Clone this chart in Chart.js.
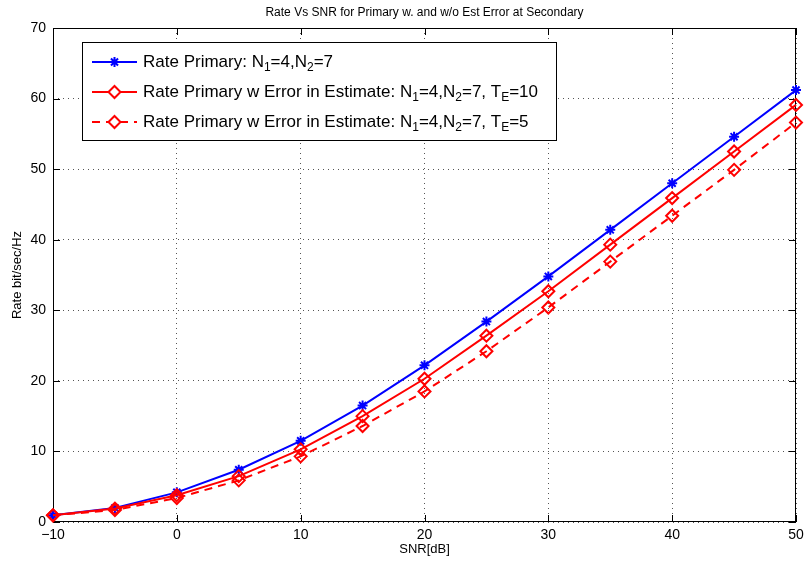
<!DOCTYPE html>
<html lang="en">
<head>
    <meta charset="UTF-8">
    <title>Rate Vs SNR</title>
    <script src="https://cdn.jsdelivr.net/npm/chart.js"></script>
    <style>
        body {
            margin: 0;
            padding: 0;
            background: #fff;
        }
        canvas {
            display: block;
        }
    </style>
</head>
<body>
    <canvas id="rateChart" width="804" height="565"></canvas>

    <script>
        // SNR values (dB)
        const snr = [-10, -5, 0, 5, 10, 15, 20, 25, 30, 35, 40, 45, 50];

        // Rate (bit/sec/Hz)
        const ratePrimary = [0.95, 2.0, 4.2, 7.4, 11.5, 16.5, 22.2, 28.4, 34.8, 41.4, 48.0, 54.6, 61.2];
        const rateErrTE10 = [0.95, 1.9, 3.8, 6.5, 10.3, 15.0, 20.3, 26.4, 32.7, 39.3, 45.9, 52.5, 59.1];
        const rateErrTE5 = [0.95, 1.7, 3.4, 5.9, 9.3, 13.6, 18.5, 24.2, 30.4, 36.9, 43.4, 49.9, 56.6];

        const xTicks = [-10, 0, 10, 20, 30, 40, 50];
        const yTicks = [0, 10, 20, 30, 40, 50, 60, 70];

        const chartTitle = 'Rate Vs SNR for Primary w. and w/o Est Error at Secondary';
        const xTitle = 'SNR[dB]';
        const yTitle = 'Rate bit/sec/Hz';

        // legend text pieces: [text, isSubscript]
        const legendLabels = [
            [['Rate Primary: N', 0], ['1', 1], ['=4,N', 0], ['2', 1], ['=7', 0]],
            [['Rate Primary w Error in Estimate: N', 0], ['1', 1], ['=4,N', 0], ['2', 1], ['=7, T', 0], ['E', 1], ['=10', 0]],
            [['Rate Primary w Error in Estimate: N', 0], ['1', 1], ['=4,N', 0], ['2', 1], ['=7, T', 0], ['E', 1], ['=5', 0]]
        ];

        const FONT = '"Liberation Sans", Arial, Helvetica, sans-serif';

        function toPoints(vals) {
            return snr.map((x, i) => ({ x: x, y: vals[i] }));
        }

        // frame, inward ticks, titles and legend, matlab style
        const matlabPlugin = {
            id: 'matlabDecor',
            beforeDatasetsDraw(chart) {
                const ctx = chart.ctx;
                const a = chart.chartArea;
                const xs = chart.scales.x;
                const ys = chart.scales.y;
                ctx.save();

                // box
                ctx.strokeStyle = '#000';
                ctx.lineWidth = 1;
                ctx.strokeRect(a.left + 0.5, a.top + 0.5, a.right - a.left - 1, a.bottom - a.top - 1);

                // inward tick marks on all sides
                const tl = 7;
                ctx.beginPath();
                xTicks.forEach(v => {
                    const px = Math.round(xs.getPixelForValue(v)) + 0.5;
                    ctx.moveTo(px, a.bottom);
                    ctx.lineTo(px, a.bottom - tl);
                    ctx.moveTo(px, a.top);
                    ctx.lineTo(px, a.top + tl);
                });
                yTicks.forEach(v => {
                    const py = Math.round(ys.getPixelForValue(v)) + 0.5;
                    ctx.moveTo(a.left, py);
                    ctx.lineTo(a.left + tl, py);
                    ctx.moveTo(a.right, py);
                    ctx.lineTo(a.right - tl, py);
                });
                ctx.stroke();
                ctx.restore();
            },
            afterDraw(chart) {
                const ctx = chart.ctx;
                const a = chart.chartArea;
                ctx.save();

                // titles
                ctx.fillStyle = '#000';
                ctx.textAlign = 'center';
                ctx.textBaseline = 'middle';
                ctx.font = '12px ' + FONT;
                const cx = (a.left + a.right) / 2;
                ctx.fillText(chartTitle, cx, 13);
                ctx.font = '13px ' + FONT;
                ctx.fillText(xTitle, cx, 549);
                ctx.save();
                ctx.translate(17, (a.top + a.bottom) / 2);
                ctx.rotate(-Math.PI / 2);
                ctx.fillText(yTitle, 0, 0);
                ctx.restore();

                // legend
                const lx = 82, ly = 42, lw = 474, lh = 98;
                ctx.fillStyle = '#fff';
                ctx.fillRect(lx, ly, lw, lh);
                ctx.strokeStyle = '#000';
                ctx.lineWidth = 1;
                ctx.strokeRect(lx + 0.5, ly + 0.5, lw, lh);

                chart.data.datasets.forEach((ds, i) => {
                    const rowY = ly + 20 + i * 30;
                    ctx.save();
                    ctx.strokeStyle = ds.borderColor;
                    ctx.lineWidth = ds.borderWidth;
                    ctx.setLineDash(ds.borderDash || []);
                    ctx.beginPath();
                    ctx.moveTo(92, rowY);
                    ctx.lineTo(137, rowY);
                    ctx.stroke();
                    ctx.restore();

                    ctx.save();
                    ctx.strokeStyle = ds.pointBorderColor;
                    ctx.fillStyle = ds.pointStyle === 'star' ? ds.pointBorderColor : '#fff';
                    ctx.lineWidth = ds.pointBorderWidth;
                    Chart.helpers.drawPoint(ctx, {
                        pointStyle: ds.pointStyle,
                        radius: ds.pointRadius,
                        borderWidth: ds.pointBorderWidth,
                        rotation: 0
                    }, 114.5, rowY);
                    ctx.restore();

                    let tx = 143;
                    ctx.textAlign = 'left';
                    ctx.textBaseline = 'middle';
                    ctx.fillStyle = '#000';
                    legendLabels[i].forEach(([txt, sub]) => {
                        ctx.font = (sub ? '12px ' : '17px ') + FONT;
                        ctx.fillText(txt, tx, rowY + (sub ? 6 : 0));
                        tx += ctx.measureText(txt).width;
                    });
                });

                ctx.restore();
            }
        };

        const ctx = document.getElementById('rateChart').getContext('2d');

        new Chart(ctx, {
            type: 'line',
            data: {
                datasets: [
                    {
                        label: 'Rate Primary: N1=4,N2=7',
                        data: toPoints(ratePrimary),
                        borderColor: '#0000ff',
                        backgroundColor: '#0000ff',
                        borderWidth: 2,
                        pointStyle: 'star',
                        pointRadius: 5,
                        pointBorderWidth: 2,
                        pointBorderColor: '#0000ff',
                        clip: false,
                        order: 3
                    },
                    {
                        label: 'Rate Primary w Error in Estimate: N1=4,N2=7, TE=10',
                        data: toPoints(rateErrTE10),
                        borderColor: '#ff0000',
                        backgroundColor: 'rgba(0,0,0,0)',
                        borderWidth: 2,
                        pointStyle: 'rectRot',
                        pointRadius: 6,
                        pointBorderWidth: 2,
                        pointBorderColor: '#ff0000',
                        clip: false,
                        order: 2
                    },
                    {
                        label: 'Rate Primary w Error in Estimate: N1=4,N2=7, TE=5',
                        data: toPoints(rateErrTE5),
                        borderColor: '#ff0000',
                        backgroundColor: 'rgba(0,0,0,0)',
                        borderWidth: 2,
                        borderDash: [8, 6],
                        pointStyle: 'rectRot',
                        pointRadius: 6,
                        pointBorderWidth: 2,
                        pointBorderColor: '#ff0000',
                        clip: false,
                        order: 1
                    }
                ]
            },
            options: {
                responsive: false,
                animation: false,
                layout: {
                    padding: { left: 0, right: 8, top: 28, bottom: 0 }
                },
                plugins: {
                    legend: { display: false },
                    title: { display: false },
                    tooltip: { enabled: false }
                },
                scales: {
                    x: {
                        type: 'linear',
                        min: -10,
                        max: 50,
                        afterBuildTicks: scale => {
                            scale.ticks = xTicks.map(v => ({ value: v }));
                        },
                        afterFit: scale => {
                            scale.height = 43;
                            scale.paddingLeft = 0;
                            scale.paddingRight = 0;
                        },
                        grid: {
                            color: '#555',
                            lineWidth: 1,
                            drawTicks: false
                        },
                        border: { display: false, dash: [1, 4] },
                        ticks: {
                            color: '#000',
                            padding: 5,
                            font: { family: FONT, size: 14 },
                            callback: v => v < 0 ? '\u2212' + Math.abs(v) : String(v)
                        }
                    },
                    y: {
                        type: 'linear',
                        min: 0,
                        max: 70,
                        afterBuildTicks: scale => {
                            scale.ticks = yTicks.map(v => ({ value: v }));
                        },
                        afterFit: scale => {
                            scale.width = 53;
                            scale.paddingTop = 0;
                            scale.paddingBottom = 0;
                        },
                        grid: {
                            color: '#555',
                            lineWidth: 1,
                            drawTicks: false
                        },
                        border: { display: false, dash: [1, 4] },
                        ticks: {
                            color: '#000',
                            padding: 7,
                            font: { family: FONT, size: 14 }
                        }
                    }
                }
            },
            plugins: [matlabPlugin]
        });
    </script>
</body>
</html>
